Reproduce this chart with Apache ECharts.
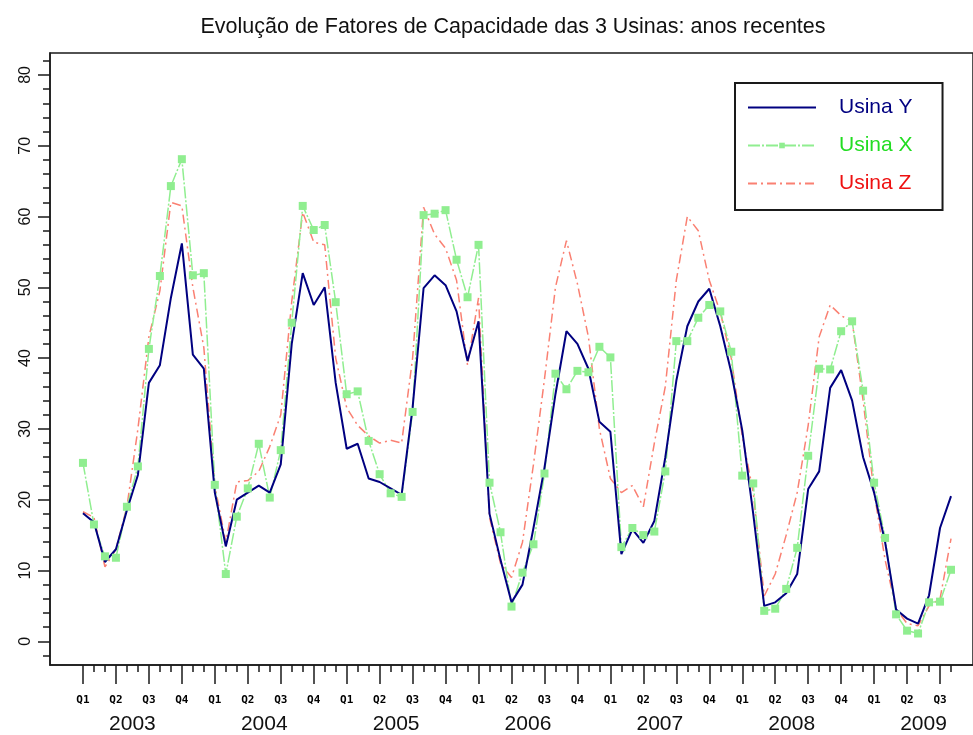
<!DOCTYPE html>
<html>
<head>
<meta charset="utf-8">
<title>Fatores de Capacidade</title>
<script src="https://cdn.jsdelivr.net/npm/echarts@6/dist/echarts.min.js"></script>
<style>
    html, body { margin: 0; height: 100%; background: #fff; }
    #main { width: 973px; height: 735px; }
</style>
</head>
<body>
<div id="main"></div>
<script>
    // dados mensais, jan/2003 a ago/2009
    var anos = ['2003', '2004', '2005', '2006', '2007', '2008', '2009'];
    var trimestres = ['Q1', 'Q2', 'Q3', 'Q4'];

    var usinaY = [
        18.1, 16.8, 11.2, 13.0, 18.5, 23.5, 36.5, 39.0, 48.5, 56.2, 40.5, 38.5,
        21.0, 13.4, 20.0, 21.0, 22.0, 21.0, 25.0, 42.0, 52.0, 47.5, 50.0, 36.5,
        27.2, 27.9, 23.0, 22.5, 21.6, 20.7, 33.0, 49.9, 51.7, 50.3, 46.6, 39.6,
        45.2, 18.0, 11.5, 5.5, 8.0, 16.0, 24.5, 34.9, 43.8, 42.0, 38.5, 31.0,
        29.6, 12.3, 15.8, 13.9, 17.0, 26.0, 36.8, 44.5, 48.0, 49.8, 44.5, 38.0,
        29.8, 18.0, 5.0, 5.5, 6.8, 9.5, 21.5, 24.0, 35.8, 38.3, 34.0, 26.0,
        21.0, 14.0, 4.5, 3.2, 2.5, 6.5, 16.0, 20.5
    ];
    var usinaX = [
        25.2, 16.5, 12.0, 11.8, 19.0, 24.7, 41.3, 51.6, 64.3, 68.1, 51.7, 52.0,
        22.1, 9.5, 17.6, 21.6, 27.9, 20.3, 27.0, 45.0, 61.5, 58.1, 58.8, 47.9,
        34.9, 35.3, 28.3, 23.6, 20.9, 20.4, 32.4, 60.2, 60.4, 60.9, 53.9, 48.6,
        56.0, 22.4, 15.4, 4.9, 9.7, 13.7, 23.7, 37.8, 35.6, 38.2, 38.0, 41.6,
        40.1, 13.3, 16.0, 15.0, 15.5, 24.0, 42.4, 42.4, 45.7, 47.5, 46.6, 40.9,
        23.4, 22.3, 4.3, 4.6, 7.4, 13.2, 26.2, 38.5, 38.4, 43.8, 45.2, 35.4,
        22.4, 14.6, 3.8, 1.5, 1.1, 5.5, 5.6, 10.1
    ];
    var usinaZ = [
        18.3, 17.5, 10.5, 13.0, 19.0, 30.0, 43.0, 49.5, 62.0, 61.5, 50.0, 41.5,
        22.0, 14.0, 22.5, 22.7, 24.0, 27.5, 32.0, 48.0, 60.6, 56.4, 56.0, 40.0,
        33.0, 30.5, 29.0, 28.0, 28.4, 28.0, 40.0, 61.3, 57.5, 55.5, 51.0, 39.0,
        48.5, 17.5, 11.0, 9.0, 14.0, 25.0, 37.0, 50.0, 56.6, 50.5, 43.0, 30.0,
        23.0, 21.0, 22.0, 19.0, 28.0, 36.0, 51.0, 60.0, 58.0, 51.0, 46.5, 40.0,
        29.0, 21.0, 6.4, 9.5, 15.0, 21.0, 30.5, 43.0, 47.5, 46.0, 45.2, 34.0,
        21.0, 11.5, 4.6, 2.5, 2.2, 5.0, 6.0, 14.5
    ];
    var yTicks = [0, 10, 20, 30, 40, 50, 60, 70, 80];

    // posições no eixo x (índice do mês)
    var nMeses = usinaY.length;
    var tickTrim = [], tickMes = [], posAno = [];
    for (var i = 0; i < nMeses; i++) {
        if (i % 3 === 0) tickTrim.push(i); else tickMes.push(i);
    }
    for (var a = 0; a < anos.length; a++) posAno.push(a * 12 + 4.5);
    var yMinor = [];
    for (var v = -2; v <= 82; v += 2) if (v % 10 !== 0) yMinor.push(v);

    function pares(arr) {
        return arr.map(function (val, idx) { return [idx, val]; });
    }

    var preto = '#1a1a1a';
    var fonte = 'Liberation Sans, Arial';
    var xMin = -3, xMax = 81, yMin = -3.35, yMax = 83.1;

    var myChart = echarts.init(document.getElementById('main'), null, {renderer: 'canvas'});

    var option = {
        animation: false,
        title: {
            text: 'Evolução de Fatores de Capacidade das 3 Usinas: anos recentes',
            left: 508,
            top: 11,
            textAlign: 'center',
            textStyle: {fontSize: 21.5, fontWeight: 'normal', color: '#111', fontFamily: fonte}
        },
        legend: {
            orient: 'vertical',
            left: 735,
            top: 83,
            backgroundColor: '#fff',
            borderColor: preto,
            borderWidth: 2,
            padding: [14, 30, 16, 12],
            itemWidth: 68,
            itemHeight: 7,
            itemGap: 17,
            textStyle: {fontSize: 21, lineHeight: 21, fontFamily: fonte, padding: [0, 0, 0, 18]},
            data: [
                {name: 'Usina Y', textStyle: {color: '#000080'}, itemStyle: {opacity: 0}},
                {name: 'Usina X', textStyle: {color: '#22dd22'}},
                {name: 'Usina Z', textStyle: {color: '#ee1111'}, itemStyle: {opacity: 0}}
            ]
        },
        grid: {
            left: 50, right: -2, top: 53, bottom: 65,
            show: true, borderColor: preto, borderWidth: 1.5
        },
        xAxis: [
            {
                type: 'value', min: xMin, max: xMax, position: 'bottom',
                axisLine: {show: true, onZero: false, lineStyle: {color: preto, width: 1.5}},
                axisTick: {show: true, customValues: tickTrim, length: 19, lineStyle: {color: preto, width: 1.5}},
                axisLabel: {
                    customValues: tickTrim, margin: 30, color: '#000',
                    fontSize: 11, fontWeight: 'bold', fontFamily: 'DejaVu Sans Mono',
                    formatter: function (val) { return trimestres[(val % 12) / 3]; }
                },
                splitLine: {show: false}
            },
            {
                type: 'value', min: xMin, max: xMax, position: 'bottom', gridIndex: 0,
                axisLine: {show: false, onZero: false},
                axisTick: {show: true, customValues: tickMes, length: 7, lineStyle: {color: preto, width: 1.5}},
                axisLabel: {show: false},
                splitLine: {show: false}
            },
            {
                type: 'value', min: xMin, max: xMax, position: 'bottom', gridIndex: 0,
                axisLine: {show: false, onZero: false},
                axisTick: {show: false},
                axisLabel: {
                    customValues: posAno, margin: 49, color: '#111',
                    fontSize: 21, fontFamily: fonte,
                    formatter: function (val) { return anos[Math.floor(val / 12)]; }
                },
                splitLine: {show: false}
            }
        ],
        yAxis: [
            {
                type: 'value', min: yMin, max: yMax, position: 'left',
                axisLine: {show: true, onZero: false, lineStyle: {color: preto, width: 1.5}},
                axisTick: {show: true, customValues: yTicks, length: 12, lineStyle: {color: preto, width: 1.5}},
                axisLabel: {
                    customValues: yTicks, rotate: 90, margin: 16, color: '#111',
                    fontSize: 16, fontFamily: fonte
                },
                splitLine: {show: false}
            },
            {
                type: 'value', min: yMin, max: yMax, position: 'left', gridIndex: 0,
                axisLine: {show: false, onZero: false},
                axisTick: {show: true, customValues: yMinor, length: 7, lineStyle: {color: preto, width: 1.5}},
                axisLabel: {show: false},
                splitLine: {show: false}
            }
        ],
        series: [
            {
                name: 'Usina Z', type: 'line', data: pares(usinaZ),
                symbol: 'none', showSymbol: false,
                lineStyle: {color: '#fa8072', width: 1.5, type: [9, 4, 2, 4]},
                itemStyle: {color: '#fa8072'}
            },
            {
                name: 'Usina X', type: 'line', data: pares(usinaX),
                symbol: 'rect', symbolSize: 8, showSymbol: true,
                lineStyle: {color: '#90ee90', width: 1.5, type: [12, 2, 2, 2]},
                itemStyle: {color: '#90ee90'}
            },
            {
                name: 'Usina Y', type: 'line', data: pares(usinaY),
                symbol: 'none', showSymbol: false,
                lineStyle: {color: '#000080', width: 2},
                itemStyle: {color: '#000080'}
            }
        ]
    };

    myChart.setOption(option);
</script>
</body>
</html>
